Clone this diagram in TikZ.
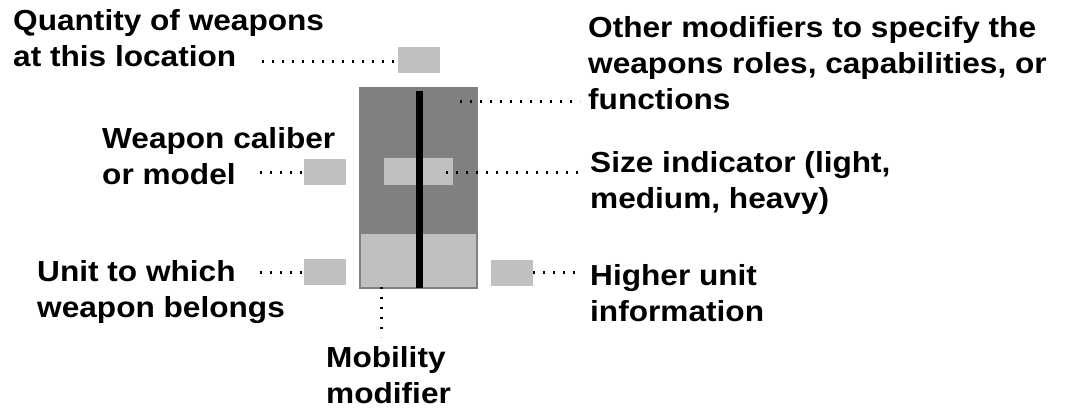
\documentclass[tikz,border=0pt]{standalone}
\usepackage{fontspec}
\setmainfont{Liberation Sans}[FakeStretch=1.09]
\definecolor{darkg}{RGB}{128,128,128}
\definecolor{lightg}{RGB}{192,192,192}
\newcommand{\lab}{\fontsize{29}{36}\selectfont\bfseries}
\begin{document}
\begin{tikzpicture}[x=1pt,y=-1pt,
  lbl/.style={font=\lab, align=left, inner sep=0pt, anchor=base west},
  box/.style={inner sep=0pt, outer sep=0pt, anchor=north west, draw=none},
  dk/.style={box, fill=darkg},
  lt/.style={box, fill=lightg},
  blk/.style={box, fill=black},
  dotline/.style={line width=3pt, dash pattern=on 1.8pt off 8.2pt}]
\useasboundingbox (0,0) rectangle (1065,408);
% symbol
\node[dk, minimum width=119pt, minimum height=202pt] (frame) at (359,87) {};
\node[lt, minimum width=115pt, minimum height=53pt] (lower) at (361,234) {};
\node[lt, minimum width=69pt, minimum height=27pt] (mid) at (384,158) {};
\node[blk, minimum width=7pt, minimum height=197pt] (bar) at (416,91) {};
% field boxes
\node[lt, minimum width=42pt, minimum height=26pt] (qbox) at (398,47) {};
\node[lt, minimum width=42pt, minimum height=26pt] (cbox) at (304,159) {};
\node[lt, minimum width=42pt, minimum height=26pt] (ubox) at (304,259) {};
\node[lt, minimum width=42pt, minimum height=26pt] (hbox) at (491,260) {};
% labels (anchored at the baseline of the last line)
\node[lbl] (qlab) at (13,66) {Quantity of weapons\\at this location};
\node[lbl] (olab) at (588,109) {Other modifiers to specify the\\weapons roles, capabilities, or\\functions};
\node[lbl] (slab) at (590,208) {Size indicator (light,\\medium, heavy)};
\node[lbl] (clab) at (102,184) {Weapon caliber\\or model};
\node[lbl] (ulab) at (37,317) {Unit to which\\weapon belongs};
\node[lbl] (hlab) at (590,321) {Higher unit\\information};
\node[lbl] (mlab) at (326,403) {Mobility\\modifier};
% free ends
\coordinate (qend) at (262,61.5);
\coordinate (oin) at (460,101);
\coordinate (oend) at (580,101);
\coordinate (sin) at (446,172);
\coordinate (send) at (580,172);
\coordinate (cend) at (260,172);
\coordinate (uend) at (260,272);
\coordinate (hend) at (582,272);
\coordinate (min) at (381,287);
\coordinate (mend) at (381,337);
% connectors
\draw[dotline] (qend) -- (qend -| qbox.west);
\draw[dotline] (oin) -- (oend);
\draw[dotline] (sin) -- (send);
\draw[dotline] (cend) -- (cend -| cbox.west);
\draw[dotline] (uend) -- (uend -| ubox.west);
\draw[dotline] (hend -| hbox.east) -- (hend);
\draw[dotline] (min) -- (mend);
\end{tikzpicture}
\end{document}
